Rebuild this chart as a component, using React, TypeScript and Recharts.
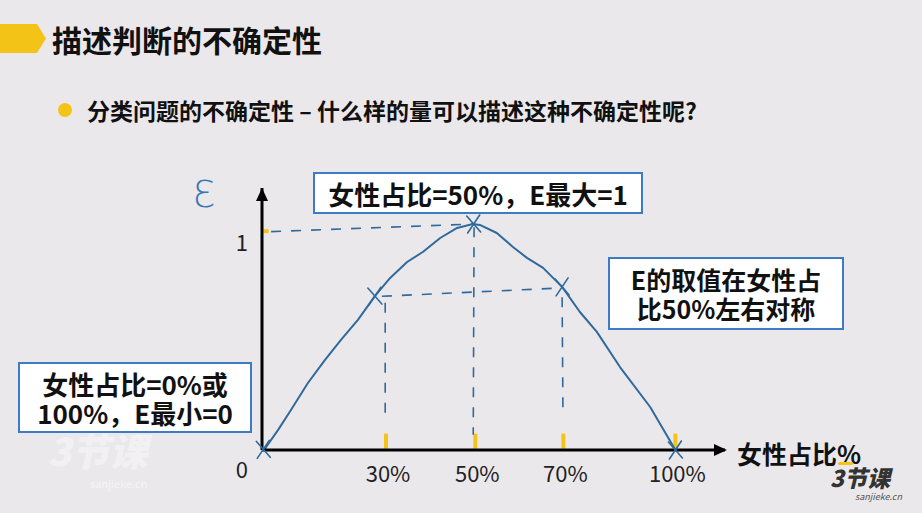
import React from "react";
import {
  ComposedChart,
  Line,
  XAxis,
  YAxis,
  ReferenceLine,
  ReferenceDot,
} from "recharts";

// Hand-drawn curve (x in % of axis, y = E)
const curveX = [0.5, 3.9, 7.0, 11.1, 15.2, 19.1, 23.2, 27.3, 31.0, 35.1, 38.9, 43.1, 47.2, 51.0, 52.7, 56.8, 60.7, 64.1, 68.0, 72.6, 76.9, 81.0, 86.6, 93.9, 100];
const curveY = [0, 0.092, 0.183, 0.307, 0.412, 0.504, 0.596, 0.705, 0.788, 0.861, 0.907, 0.971, 1.017, 1.035, 1.031, 0.994, 0.93, 0.88, 0.834, 0.747, 0.632, 0.541, 0.38, 0.197, 0];

// Hand-drawn "x" marks on the curve
const markX = [0.3, 27.3, 51.2, 72.6, 100];
const markY = [0.003, 0.705, 1.035, 0.747, 0];

// X tick positions (as drawn) and labels
const xTickValues = [30, 51.6, 72.9, 100];
const xTickLabels = ["30%", "50%", "70%", "100%"];
const yTickValues = [0, 1];
const yTickLabels = ["0", "1"];

const X_MAX = 112;
const Y_MAX = 1.2;

const curve = curveX.map((x, i) => ({ x, y: curveY[i] }));

const BLUE = "#2f6a9b";
const YELLOW = "#f3c417";
const BG = "#ebe8ec";
const FONT = '"Noto Sans CJK SC", "Noto Sans", sans-serif';

const XTick = (props: any) => {
  const { x, y, payload } = props;
  const i = xTickValues.indexOf(payload.value);
  return (
    <text x={x + 2} y={y + 32} textAnchor="middle" fontSize={22} fill="#222" fontFamily={FONT}>
      {xTickLabels[i]}
    </text>
  );
};

const YTick = (props: any) => {
  const { x, y, payload } = props;
  const i = yTickValues.indexOf(payload.value);
  const dy = payload.value === 0 ? 28 : 19;
  return (
    <text x={x} y={y + dy} textAnchor="end" fontSize={22} fill="#222" fontFamily={FONT}>
      {yTickLabels[i]}
    </text>
  );
};

const XMark = (props: any) => {
  const { cx, cy } = props;
  if (cx == null || cy == null) return <g />;
  return (
    <g stroke={BLUE} strokeWidth={1.6} strokeLinecap="round">
      <line x1={cx - 7} y1={cy - 8} x2={cx + 7} y2={cy + 8} />
      <line x1={cx - 6} y1={cy + 9} x2={cx + 6} y2={cy - 9} />
    </g>
  );
};

const ArrowRight = (props: any) => {
  const { cx, cy } = props;
  return <polygon points={`${cx + 2},${cy} ${cx - 11},${cy - 6} ${cx - 11},${cy + 6}`} fill="#000" />;
};
const ArrowUp = (props: any) => {
  const { cx, cy } = props;
  return <polygon points={`${cx},${cy} ${cx - 6},${cy + 13} ${cx + 6},${cy + 13}`} fill="#000" />;
};

const boxStyle: React.CSSProperties = {
  position: "absolute",
  background: "#fff",
  border: "2px solid #3d7cc4",
  boxSizing: "border-box",
  display: "flex",
  flexDirection: "column",
  alignItems: "center",
  justifyContent: "center",
  textAlign: "center",
  fontWeight: 700,
  color: "#111",
  fontFamily: FONT,
};

const lineStyle: React.CSSProperties = { height: 29, lineHeight: "29px", whiteSpace: "nowrap" };

const dash = "10 10";

export default function App() {
  return (
    <div
      style={{
        position: "fixed",
        left: 0,
        top: 0,
        width: 922,
        height: 513,
        background: BG,
        overflow: "hidden",
        fontFamily: FONT,
      }}
    >
      {/* title */}
      <svg width={80} height={130} style={{ position: "absolute", left: 0, top: 0 }}>
        <polygon points="0,24 37,24 46,38.5 37,53 0,53" fill={YELLOW} />
        <circle cx={65} cy={110} r={7} fill={YELLOW} />
      </svg>
      <div
        style={{
          position: "absolute",
          left: 52,
          top: 19,
          fontSize: 30,
          fontWeight: 700,
          color: "#111",
          lineHeight: "40px",
          whiteSpace: "nowrap",
        }}
      >
        描述判断的不确定性
      </div>
      <div
        style={{
          position: "absolute",
          left: 87,
          top: 94,
          fontSize: 23,
          fontWeight: 700,
          color: "#111",
          lineHeight: "32px",
          whiteSpace: "nowrap",
        }}
      >
        分类问题的不确定性 – 什么样的量可以描述这种不确定性呢?
      </div>

      {/* faint watermark left */}
      <div
        style={{
          position: "absolute",
          left: 48,
          top: 432,
          height: 36,
          fontSize: 38,
          fontWeight: 900,
          fontStyle: "italic",
          color: "rgba(255,255,255,0.4)",
          lineHeight: "36px",
          whiteSpace: "nowrap",
        }}
      >
        3节课
      </div>
      <div
        style={{
          position: "absolute",
          left: 90,
          top: 476,
          height: 14,
          fontSize: 11,
          lineHeight: "14px",
          color: "rgba(255,255,255,0.55)",
          whiteSpace: "nowrap",
        }}
      >
        sanjieke.cn
      </div>

      <div style={{ position: "absolute", left: 0, top: 0 }}>
        <ComposedChart
          width={922}
          height={513}
          margin={{ top: 188, right: 197, bottom: 23, left: 222 }}
        >
          <XAxis
            type="number"
            dataKey="x"
            domain={[0, X_MAX]}
            ticks={xTickValues}
            tick={<XTick />}
            tickLine={false}
            tickSize={0}
            tickMargin={0}
            axisLine={{ stroke: "#000", strokeWidth: 3 }}
            height={40}
          />
          <YAxis
            type="number"
            dataKey="y"
            domain={[0, Y_MAX]}
            ticks={yTickValues}
            tick={<YTick />}
            tickLine={false}
            tickSize={0}
            tickMargin={14}
            axisLine={{ stroke: "#000", strokeWidth: 3 }}
            width={40}
          />

          {/* yellow tick marks */}
          {xTickValues.map((v) => (
            <ReferenceLine
              key={"yt" + v}
              segment={[
                { x: v, y: 0.006 },
                { x: v, y: 0.075 },
              ]}
              stroke={YELLOW}
              strokeWidth={4}
              ifOverflow="visible"
            />
          ))}
          <ReferenceLine
            segment={[
              { x: 0.3, y: 1.002 },
              { x: 1.6, y: 1.002 },
            ]}
            stroke={YELLOW}
            strokeWidth={4}
            ifOverflow="visible"
          />

          {/* dashed guide lines */}
          <ReferenceLine
            segment={[
              { x: 2.2, y: 1.0 },
              { x: 51.2, y: 1.035 },
            ]}
            stroke={BLUE}
            strokeWidth={1.6}
            strokeDasharray={dash}
            ifOverflow="visible"
          />
          <ReferenceLine
            segment={[
              { x: 29, y: 0.704 },
              { x: 72.3, y: 0.742 },
            ]}
            stroke={BLUE}
            strokeWidth={1.6}
            strokeDasharray={dash}
            ifOverflow="visible"
          />
          <ReferenceLine
            segment={[
              { x: 29.8, y: 0.675 },
              { x: 29.8, y: 0.15 },
            ]}
            stroke={BLUE}
            strokeWidth={1.6}
            strokeDasharray={dash}
            ifOverflow="visible"
          />
          <ReferenceLine
            segment={[
              { x: 51.3, y: 1.02 },
              { x: 51.1, y: 0.07 },
            ]}
            stroke={BLUE}
            strokeWidth={1.6}
            strokeDasharray={dash}
            ifOverflow="visible"
          />
          <ReferenceLine
            segment={[
              { x: 72.6, y: 0.7 },
              { x: 72.8, y: 0.17 },
            ]}
            stroke={BLUE}
            strokeWidth={1.6}
            strokeDasharray={dash}
            ifOverflow="visible"
          />

          <Line
            data={curve}
            dataKey="y"
            type="linear"
            stroke={BLUE}
            strokeWidth={2}
            strokeLinejoin="round"
            dot={false}
            activeDot={false}
            isAnimationActive={false}
          />

          {/* hand-drawn x marks */}
          {markX.map((x, i) => (
            <ReferenceDot key={"m" + i} x={x} y={markY[i]} r={7} shape={<XMark />} ifOverflow="visible" />
          ))}

          {/* axis arrowheads */}
          <ReferenceDot x={X_MAX} y={0} r={6} shape={<ArrowRight />} ifOverflow="visible" />
          <ReferenceDot x={0} y={Y_MAX} r={6} shape={<ArrowUp />} ifOverflow="visible" />
        </ComposedChart>
      </div>

      {/* handwritten axis name */}
      <div
        style={{
          position: "absolute",
          left: 193,
          top: 170,
          fontSize: 38,
          fontWeight: 300,
          color: "#3a78b4",
          fontFamily: '"DejaVu Sans", sans-serif',
          lineHeight: "48px",
        }}
      >
        Ɛ
      </div>

      {/* x-axis name */}
      <div
        style={{
          position: "absolute",
          left: 737,
          top: 438,
          height: 30,
          fontSize: 25,
          fontWeight: 700,
          color: "#111",
          lineHeight: "30px",
          whiteSpace: "nowrap",
        }}
      >
        女性占比%
      </div>

      {/* annotation boxes */}
      <div style={{ ...boxStyle, left: 313, top: 172, width: 330, height: 42, fontSize: 26 }}>
        <div style={lineStyle}>女性占比=50%，E最大=1</div>
      </div>
      <div style={{ ...boxStyle, left: 608, top: 257, width: 236, height: 73, fontSize: 25 }}>
        <div style={lineStyle}>E的取值在女性占</div>
        <div style={lineStyle}>比50%左右对称</div>
      </div>
      <div style={{ ...boxStyle, left: 18, top: 362, width: 234, height: 71, fontSize: 26 }}>
        <div style={lineStyle}>女性占比=0%或</div>
        <div style={lineStyle}>100%，E最小=0</div>
      </div>

      {/* logo bottom right */}
      <div
        style={{
          position: "absolute",
          left: 830,
          top: 467,
          height: 20,
          fontSize: 23,
          fontWeight: 900,
          fontStyle: "italic",
          color: "#333",
          lineHeight: "20px",
          whiteSpace: "nowrap",
        }}
      >
        3节课
      </div>
      <div
        style={{
          position: "absolute",
          left: 838,
          top: 462,
          width: 15,
          height: 3,
          background: YELLOW,
          borderRadius: 2,
        }}
      />
      <div
        style={{
          position: "absolute",
          left: 855,
          top: 492,
          height: 10,
          fontSize: 9,
          lineHeight: "10px",
          color: "#555",
          fontStyle: "italic",
          whiteSpace: "nowrap",
        }}
      >
        sanjieke.cn
      </div>
    </div>
  );
}
